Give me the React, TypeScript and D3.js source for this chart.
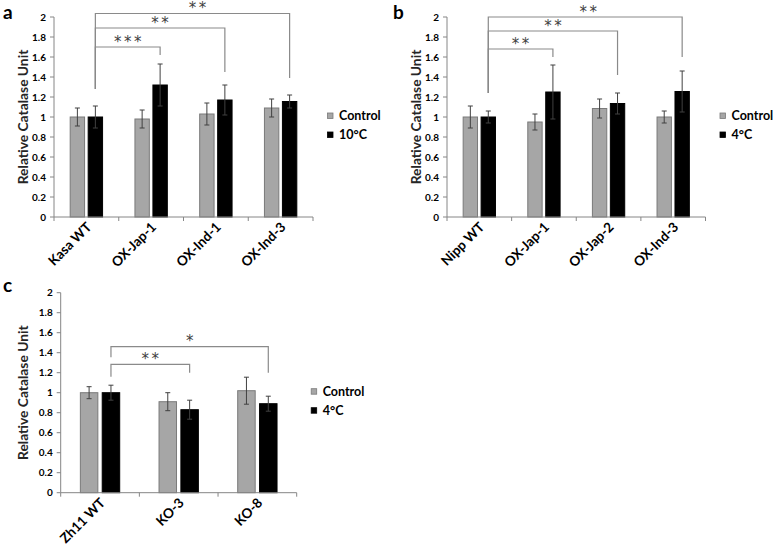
import React from "react";
import * as d3 from "d3";

// ---------- data ----------
const seriesKeys = ["control", "cold"];

const categoriesA = ["Kasa WT", "OX-Jap-1", "OX-Ind-1", "OX-Ind-3"];
const controlA = [1.0, 0.98, 1.03, 1.09];
const controlErrA = [0.09, 0.09, 0.11, 0.09];
const coldA = [1.0, 1.32, 1.17, 1.155];
const coldErrA = [0.11, 0.21, 0.15, 0.065];
const coldLabelA = "10°C";
const bracketsA = [
  { from: 0, to: 1, level: 1.7, leftEnd: 1.28, rightEnd: 1.62, label: "***", dx: 0 },
  { from: 0, to: 2, level: 1.89, leftEnd: 1.28, rightEnd: 1.45, label: "**", dx: 0 },
  { from: 0, to: 3, level: 2.035, leftEnd: 1.28, rightEnd: 1.39, label: "**", dx: 5 },
];

const categoriesB = ["Nipp WT", "OX-Jap-1", "OX-Jap-2", "OX-Ind-3"];
const controlB = [1.0, 0.95, 1.085, 1.0];
const controlErrB = [0.11, 0.08, 0.095, 0.06];
const coldB = [1.0, 1.25, 1.135, 1.255];
const coldErrB = [0.06, 0.27, 0.105, 0.205];
const coldLabelB = "4°C";
const bracketsB = [
  { from: 0, to: 1, level: 1.68, leftEnd: 1.24, rightEnd: 1.6, label: "**", dx: 0 },
  { from: 0, to: 2, level: 1.86, leftEnd: 1.24, rightEnd: 1.42, label: "**", dx: 0 },
  { from: 0, to: 3, level: 2.0, leftEnd: 1.24, rightEnd: 1.6, label: "**", dx: 3 },
];

const categoriesC = ["Zh11 WT", "KO-3", "KO-8"];
const controlC = [1.0, 0.91, 1.02];
const controlErrC = [0.06, 0.09, 0.135];
const coldC = [1.0, 0.83, 0.89];
const coldErrC = [0.075, 0.095, 0.075];
const coldLabelC = "4°C";
const bracketsC = [
  { from: 0, to: 1, level: 1.284, leftEnd: 1.16, rightEnd: 1.2, label: "**", dx: 0 },
  { from: 0, to: 2, level: 1.46, leftEnd: 1.354, rightEnd: 1.2, label: "*", dx: 0 },
];

const yTicks = [0, 0.2, 0.4, 0.6, 0.8, 1, 1.2, 1.4, 1.6, 1.8, 2];
const yTitle = "Relative Catalase Unit";
const controlLabel = "Control";

// ---------- styles ----------
const FONT = "Lato, 'Open Sans', sans-serif";
const AXIS_COLOR = "#868686";
const GRAY_FILL = "#a6a6a6";
const GRAY_STROKE = "#7a7a7a";
const ERR_COLOR = "#404040";
const BRACKET_COLOR = "#8a8a8a";

type Bracket = { from: number; to: number; level: number; leftEnd: number; rightEnd: number; label: string; dx: number };

type PanelProps = {
  letter: string;
  letterX: number;
  letterY: number;
  cats: string[];
  ctrl: number[];
  ctrlErr: number[];
  cold: number[];
  coldErr: number[];
  coldLabel: string;
  brackets: Bracket[];
  x0: number;
  x1: number;
  yZero: number;
  yTwo: number;
  titleX: number;
};

function Panel(p: PanelProps) {
  const x = d3.scaleBand<string>().domain(p.cats).range([p.x0, p.x1]).paddingInner(0).paddingOuter(0);
  const bw = x.bandwidth();
  const inner = d3.scaleBand<string>().domain(seriesKeys).range([bw * 0.25, bw * 0.75]).paddingInner(0.2);
  const ibw = inner.bandwidth();
  const y = d3.scaleLinear().domain([0, 2]).range([p.yZero, p.yTwo]);
  const cap = 2.5;

  const barX = (i: number, key: string) => (x(p.cats[i]) as number) + (inner(key) as number);
  const centerOf = (i: number, key: string) => barX(i, key) + ibw / 2;

  const legendY = (p.yZero + p.yTwo) / 2 + 8;

  return (
    <g>
      <text x={p.letterX} y={p.letterY} fontFamily={FONT} fontWeight={700} fontSize={19} fill="#000">
        {p.letter}
      </text>
      {/* y axis */}
      <line x1={p.x0} x2={p.x0} y1={y(0)} y2={y(2)} stroke={AXIS_COLOR} strokeWidth={1} />
      {yTicks.map((t) => (
        <g key={t}>
          <line x1={p.x0 - 4} x2={p.x0} y1={y(t)} y2={y(t)} stroke={AXIS_COLOR} strokeWidth={1} />
          <text
            x={p.x0 - 8}
            y={y(t)}
            dy="0.35em"
            textAnchor="end"
            fontFamily={FONT}
            fontWeight={700}
            fontSize={10}
            fill="#000"
          >
            {String(+t.toFixed(1))}
          </text>
        </g>
      ))}
      <text
        transform={`translate(${p.titleX},${(y(0) + y(2)) / 2}) rotate(-90)`}
        textAnchor="middle"
        dy="0.35em"
        fontFamily={FONT}
        fontWeight={700}
        fontSize={13.8}
        fill="#262626"
      >
        {yTitle}
      </text>
      {/* bars */}
      {p.cats.map((c, i) => (
        <g key={c}>
          <rect
            x={barX(i, "control")}
            y={y(p.ctrl[i])}
            width={ibw}
            height={y(0) - y(p.ctrl[i])}
            fill={GRAY_FILL}
            stroke={GRAY_STROKE}
            strokeWidth={1}
          />
          <rect
            x={barX(i, "cold")}
            y={y(p.cold[i])}
            width={ibw}
            height={y(0) - y(p.cold[i])}
            fill="#000"
            stroke="#000"
            strokeWidth={1}
          />
          {[
            { key: "control", v: p.ctrl[i], e: p.ctrlErr[i] },
            { key: "cold", v: p.cold[i], e: p.coldErr[i] },
          ].map((d) => {
            const cx = centerOf(i, d.key);
            return (
              <g key={d.key} stroke={ERR_COLOR} strokeWidth={1}>
                <line x1={cx} x2={cx} y1={y(d.v + d.e)} y2={y(d.v - d.e)} />
                <line x1={cx - cap} x2={cx + cap} y1={y(d.v + d.e)} y2={y(d.v + d.e)} />
                <line x1={cx - cap} x2={cx + cap} y1={y(d.v - d.e)} y2={y(d.v - d.e)} />
              </g>
            );
          })}
        </g>
      ))}
      {/* x axis */}
      <line x1={p.x0} x2={p.x1} y1={y(0)} y2={y(0)} stroke={AXIS_COLOR} strokeWidth={1} />
      {d3.range(p.cats.length + 1).map((i) => {
        const tx = p.x0 + i * bw;
        return <line key={i} x1={tx} x2={tx} y1={y(0)} y2={y(0) + 4} stroke={AXIS_COLOR} strokeWidth={1} />;
      })}
      {p.cats.map((c) => {
        const cx = (x(c) as number) + bw / 2;
        return (
          <text
            key={c}
            transform={`translate(${cx + 6},${y(0) + 11}) rotate(-45)`}
            textAnchor="end"
            fontFamily={FONT}
            fontWeight={700}
            fontSize={13.5}
            fill="#000"
          >
            {c}
          </text>
        );
      })}
      {/* significance brackets */}
      {p.brackets.map((b, k) => {
        const lx = centerOf(b.from, "cold");
        const rx = centerOf(b.to, "cold");
        return (
          <g key={k}>
            <path
              d={`M${lx},${y(b.leftEnd)}V${y(b.level)}H${rx}V${y(b.rightEnd)}`}
              fill="none"
              stroke={BRACKET_COLOR}
              strokeWidth={1.2}
            />
            <text
              x={(lx + rx) / 2 + b.dx + 1.25}
              y={y(b.level) - 0.5}
              textAnchor="middle"
              fontFamily="'DejaVu Sans', sans-serif"
              fontSize={15}
              letterSpacing={2.5}
              fill="#404040"
            >
              {b.label}
            </text>
          </g>
        );
      })}
      {/* legend */}
      {[
        { label: controlLabel, fill: GRAY_FILL, stroke: GRAY_STROKE, dy: -9.5 },
        { label: p.coldLabel, fill: "#000", stroke: "#000", dy: 9.5 },
      ].map((l) => (
        <g key={l.label}>
          <rect x={p.x1 + 14.5} y={legendY + l.dy - 2.5} width={5.5} height={5.5} fill={l.fill} stroke={l.stroke} strokeWidth={0.8} />
          <text
            x={p.x1 + 26}
            y={legendY + l.dy}
            dy="0.38em"
            fontFamily={FONT}
            fontWeight={700}
            fontSize={12.5}
            fill="#000"
          >
            {l.label}
          </text>
        </g>
      ))}
    </g>
  );
}

export default function App() {
  return (
    <svg width={780} height={549} style={{ display: "block", position: "absolute", left: 0, top: 0, background: "#fff" }}>
      <rect x={0} y={0} width={780} height={549} fill="#fff" />
      <Panel
        letter="a"
        letterX={3}
        letterY={19}
        cats={categoriesA}
        ctrl={controlA}
        ctrlErr={controlErrA}
        cold={coldA}
        coldErr={coldErrA}
        coldLabel={coldLabelA}
        brackets={bracketsA}
        x0={54}
        x1={313}
        yZero={217}
        yTwo={17}
        titleX={23}
      />
      <Panel
        letter="b"
        letterX={393}
        letterY={19}
        cats={categoriesB}
        ctrl={controlB}
        ctrlErr={controlErrB}
        cold={coldB}
        coldErr={coldErrB}
        coldLabel={coldLabelB}
        brackets={bracketsB}
        x0={447}
        x1={705.5}
        yZero={217}
        yTwo={17}
        titleX={416}
      />
      <Panel
        letter="c"
        letterX={3}
        letterY={292}
        cats={categoriesC}
        ctrl={controlC}
        ctrlErr={controlErrC}
        cold={coldC}
        coldErr={coldErrC}
        coldLabel={coldLabelC}
        brackets={bracketsC}
        x0={60.7}
        x1={296.7}
        yZero={492.7}
        yTwo={292.7}
        titleX={23}
      />
    </svg>
  );
}
